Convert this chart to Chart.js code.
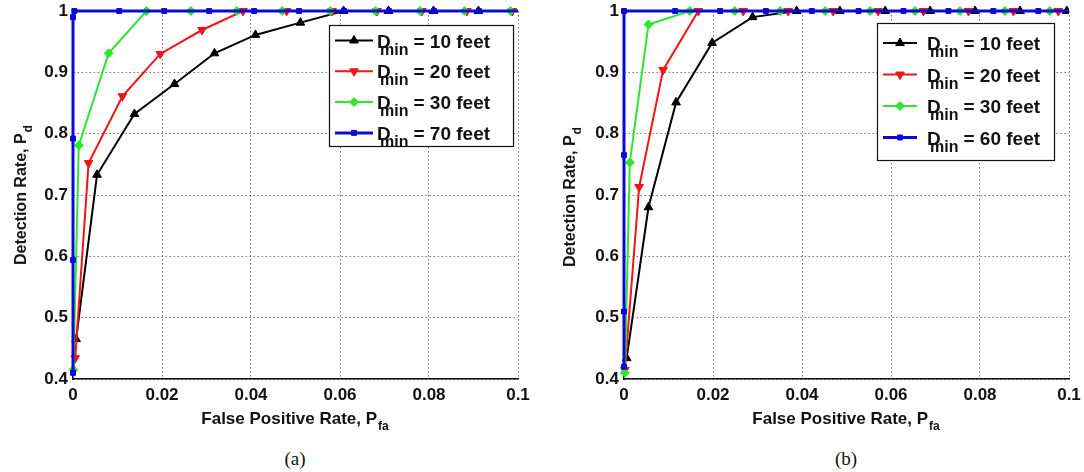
<!DOCTYPE html>
<html>
<head>
<meta charset="utf-8">
<script src="https://cdn.jsdelivr.net/npm/chart.js@4.4.1/dist/chart.umd.min.js"></script>
<style>
html, body { margin: 0; padding: 0; background: #fff; }
#wrap { position: relative; width: 1084px; height: 472px; overflow: hidden; font-family: "Liberation Sans", Arial, sans-serif; }
.cv { position: absolute; top: 0; width: 542px; height: 410px; }
.lbl { position: absolute; font-weight: bold; color: #111; white-space: nowrap; }
.lbl .sub { font-size: 12px; position: relative; top: 6px; margin-left: 1px; }
.xt { font-size: 17px; transform: translate(-50%, -50%); }
.yt { font-size: 16px; transform: translate(-50%, -50%) rotate(-90deg); }
.cap { position: absolute; font-family: "Liberation Serif", "Times New Roman", serif; font-size: 19px; color: #111; transform: translate(-50%, -50%); }
</style>
</head>
<body>
<div id="wrap">
  <div class="cv" style="left:0"><canvas id="chartA"></canvas></div>
  <div class="cv" style="left:542px"><canvas id="chartB"></canvas></div>

  <div class="lbl xt" style="left:295px; top:419px">False Positive Rate, P<span class="sub">fa</span></div>
  <div class="lbl xt" style="left:846px; top:419px">False Positive Rate, P<span class="sub">fa</span></div>
  <div class="lbl yt" style="left:21px; top:195px">Detection Rate, P<span class="sub">d</span></div>
  <div class="lbl yt" style="left:570px; top:197px">Detection Rate, P<span class="sub">d</span></div>
  <div class="cap" style="left:295px; top:459px">(a)</div>
  <div class="cap" style="left:846px; top:459px">(b)</div>
</div>

<script>
// axis ticks
const xTicks = [0, 0.02, 0.04, 0.06, 0.08, 0.1];
const xTickLabels = ['0', '0.02', '0.04', '0.06', '0.08', '0.1'];
const yTicks = [0.4, 0.5, 0.6, 0.7, 0.8, 0.9, 1];
const yTickLabels = ['0.4', '0.5', '0.6', '0.7', '0.8', '0.9', '1'];

// legend text
const legendA = ['= 10 feet', '= 20 feet', '= 30 feet', '= 70 feet'];
const legendB = ['= 10 feet', '= 20 feet', '= 30 feet', '= 60 feet'];

// (a) values
const black10Ax = [0.0007, 0.0054, 0.0138, 0.0228, 0.0318, 0.041, 0.0511, 0.0608, 0.0709, 0.081, 0.0911];
const black10Ay = [0.465, 0.733, 0.832, 0.881, 0.931, 0.961, 0.981, 1, 1, 1, 1];
const red20Ax = [0.0005, 0.0035, 0.0111, 0.0196, 0.029, 0.0382, 0.048, 0.0582, 0.0683, 0.0784, 0.0885, 0.0987];
const red20Ay = [0.434, 0.752, 0.861, 0.930, 0.969, 1, 1, 1, 1, 1, 1, 1];
const green30Ax = [0.0001, 0.0013, 0.008, 0.0165, 0.0265, 0.0368, 0.047, 0.0578, 0.068, 0.078, 0.088, 0.0983];
const green30Ay = [0.415, 0.781, 0.931, 1, 1, 1, 1, 1, 1, 1, 1, 1];
const blue70Ax = [0, 0, 0, 0, 0.0003, 0.0104, 0.0205, 0.0306, 0.0407, 0.0508, 0.0609, 0.071, 0.0811, 0.0912, 0.1013];
const blue70Ay = [0.41, 0.594, 0.792, 0.99, 1, 1, 1, 1, 1, 1, 1, 1, 1, 1, 1];

// (b)
const black10Bx = [0.0006, 0.0055, 0.0117, 0.0198, 0.0289, 0.0388, 0.0485, 0.0587, 0.0688, 0.0789, 0.089, 0.0995];
const black10By = [0.434, 0.68, 0.851, 0.948, 0.99, 1, 1, 1, 1, 1, 1, 1];
const red20Bx = [0.0002, 0.0034, 0.0088, 0.0167, 0.0268, 0.0369, 0.047, 0.0571, 0.0673, 0.0774, 0.0875, 0.0976];
const red20By = [0.415, 0.713, 0.904, 1, 1, 1, 1, 1, 1, 1, 1, 1];
const green30Bx = [0.0002, 0.0013, 0.0055, 0.0148, 0.0249, 0.0351, 0.0452, 0.0553, 0.0654, 0.0755, 0.0856, 0.0957];
const green30By = [0.41, 0.753, 0.978, 1, 1, 1, 1, 1, 1, 1, 1, 1];
const blue60Bx = [0, 0, 0, 0, 0.0115, 0.0216, 0.0319, 0.0422, 0.0527, 0.0628, 0.0729, 0.083, 0.0931, 0.1032];
const blue60By = [0.42, 0.51, 0.765, 1, 1, 1, 1, 1, 1, 1, 1, 1, 1, 1];

const styles = [
    { color: '#000000', pointStyle: 'triangle', rotation: 0, radius: 5, width: 2 },
    { color: '#f01414', pointStyle: 'triangle', rotation: 180, radius: 5, width: 2 },
    { color: '#2ee62e', pointStyle: 'rectRot', rotation: 0, radius: 4.5, width: 2 },
    { color: '#0a0ad8', pointStyle: 'rect', rotation: 0, radius: 3.5, width: 3 }
];

Chart.defaults.font.family = '"Liberation Sans", Arial, sans-serif';

function pts(xs, ys) {
    return xs.map((x, i) => ({ x: x, y: ys[i] }));
}

function makeDataset(xs, ys, i) {
    const st = styles[i];
    return {
        data: pts(xs, ys),
        showLine: true,
        borderColor: st.color,
        backgroundColor: st.color,
        borderWidth: st.width,
        pointStyle: st.pointStyle,
        rotation: st.rotation,
        pointRadius: st.radius,
        pointBorderWidth: 1,
        pointBackgroundColor: st.color,
        pointBorderColor: st.color,
        order: 4 - i,
        clip: { left: 8, top: 8, right: 0, bottom: 0 }
    };
}

// legend box with D_min subscripts, drawn over the plot
const dminLegend = {
    id: 'dminLegend',
    afterDraw(chart, args, opts) {
        const ctx = chart.ctx;
        const b = opts.box;
        ctx.save();
        ctx.fillStyle = '#fff';
        ctx.fillRect(b[0], b[1], b[2], b[3]);
        ctx.strokeStyle = '#111';
        ctx.lineWidth = 1.2;
        ctx.strokeRect(b[0] + 0.5, b[1] + 0.5, b[2], b[3]);

        opts.labels.forEach((txt, i) => {
            const st = styles[i];
            const y = opts.y0 + i * opts.dy;
            ctx.strokeStyle = st.color;
            ctx.lineWidth = st.width;
            ctx.beginPath();
            ctx.moveTo(opts.lineX[0], y);
            ctx.lineTo(opts.lineX[1], y);
            ctx.stroke();
            ctx.fillStyle = st.color;
            ctx.lineWidth = 1;
            Chart.helpers.drawPoint(ctx, {
                pointStyle: st.pointStyle, rotation: st.rotation, radius: st.radius, borderWidth: 1
            }, (opts.lineX[0] + opts.lineX[1]) / 2, y);

            ctx.fillStyle = '#111';
            ctx.textBaseline = 'alphabetic';
            ctx.font = 'bold 19px "Liberation Sans", Arial, sans-serif';
            ctx.fillText('D', opts.textX, y + 7);
            ctx.font = 'bold 16px "Liberation Sans", Arial, sans-serif';
            ctx.fillText('min', opts.textX + 3, y + 14);
            const w = ctx.measureText('min').width;
            ctx.font = 'bold 19px "Liberation Sans", Arial, sans-serif';
            ctx.fillText(txt, opts.textX + 3 + w + 5, y + 7);
        });
        ctx.restore();
    }
};

function makeChart(id, datasets, yWidth, padRight, legendOpts) {
    const ctx = document.getElementById(id).getContext('2d');
    return new Chart(ctx, {
        type: 'scatter',
        data: { datasets: datasets },
        plugins: [dminLegend],
        options: {
            responsive: true,
            maintainAspectRatio: false,
            animation: false,
            events: [],
            layout: { padding: { left: 0, top: 11, right: padRight, bottom: 0 } },
            plugins: {
                legend: { display: false },
                tooltip: { enabled: false },
                dminLegend: legendOpts
            },
            scales: {
                x: {
                    type: 'linear',
                    min: 0,
                    max: 0.1,
                    afterBuildTicks: s => { s.ticks = xTicks.map(v => ({ value: v })); },
                    afterFit: s => { s.height = 31; s.paddingLeft = 0; s.paddingRight = 0; },
                    ticks: {
                        callback: (v, i) => xTickLabels[i],
                        color: '#111',
                        font: { size: 17, weight: 'bold' },
                        padding: 6,
                        maxRotation: 0
                    },
                    grid: { color: 'rgba(0,0,0,0.55)', lineWidth: 1, drawTicks: false, tickLength: 0 },
                    border: { display: true, color: '#111', width: 1.5, dash: [1.5, 2.5] }
                },
                y: {
                    type: 'linear',
                    min: 0.4,
                    max: 1,
                    afterBuildTicks: s => { s.ticks = yTicks.map(v => ({ value: v })); },
                    afterFit: s => { s.width = yWidth; s.paddingTop = 0; s.paddingBottom = 0; },
                    ticks: {
                        callback: (v, i) => yTickLabels[i],
                        color: '#111',
                        font: { size: 17, weight: 'bold' },
                        padding: 5
                    },
                    grid: { color: 'rgba(0,0,0,0.55)', lineWidth: 1, drawTicks: false, tickLength: 0 },
                    border: { display: true, color: '#111', width: 1.5, dash: [1.5, 2.5] }
                }
            }
        }
    });
}

makeChart('chartA', [
    makeDataset(black10Ax, black10Ay, 0),
    makeDataset(red20Ax, red20Ay, 1),
    makeDataset(green30Ax, green30Ay, 2),
    makeDataset(blue70Ax, blue70Ay, 3)
], 73, 24, {
    labels: legendA,
    box: [329, 25, 184, 121],
    y0: 40.5, dy: 30.8,
    lineX: [335, 373],
    textX: 377
});

makeChart('chartB', [
    makeDataset(black10Bx, black10By, 0),
    makeDataset(red20Bx, red20By, 1),
    makeDataset(green30Bx, green30By, 2),
    makeDataset(blue60Bx, blue60By, 3)
], 82, 15, {
    labels: legendB,
    box: [335, 23, 177, 137],
    y0: 43, dy: 31.5,
    lineX: [341, 375],
    textX: 385
});
</script>
</body>
</html>
